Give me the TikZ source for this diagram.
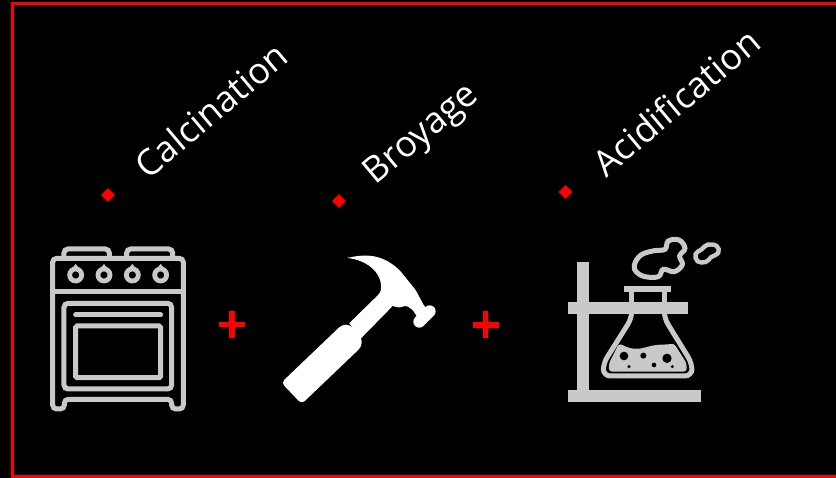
\documentclass[tikz,border=0pt]{standalone}
\usepackage{fontspec}
\setmainfont{Open Sans}
\definecolor{icon}{HTML}{C9C9C9}
\usetikzlibrary{shapes.geometric}
\tikzset{
 labeltext/.style={text=white,font=\fontsize{36}{42}\selectfont,rotate=40,inner sep=0pt},
 bullet/.style={fill=red,diamond,minimum width=14pt,minimum height=14pt,inner sep=0pt},
 plussign/.style={draw=red,line width=5.4pt},
 stroke/.style={draw=icon,line width=5pt,rounded corners=4pt},
 thin stroke/.style={draw=icon,line width=5pt},
 zoomunits/.style={x=0.3333pt,y=-0.3333pt}
}
\begin{document}
\begin{tikzpicture}[x=1pt,y=-1pt]
\useasboundingbox (0,0) rectangle (836,478);
\fill[black] (0,0) rectangle (836,478);
\draw[red,line width=3.2pt] (836,3.2) -- (12.6,3.2) -- (12.6,476.6) -- (836,476.6);

\node[labeltext] (calc) at (211,110) {Calcination};
\node[labeltext] (broy) at (422.5,135.5) {Broyage};
\node[labeltext] (acid) at (676,102) {Acidification};
\node[bullet] (b1) at (108,195) {};
\node[bullet] (b2) at (339,201) {};
\node[bullet] (b3) at (565.5,192) {};

% oven
\begin{scope}[shift={(30,230)},zoomunits]
 \draw[stroke] (68,85) -- (68,537) -- (103,537) -- (103,508) -- (425,508) -- (425,537) -- (460,537) -- (460,85) -- cycle;
 \draw[stroke] (102,82) -- (102,57) -- (238,57) -- (238,82);
 \draw[stroke] (290,82) -- (290,57) -- (428,57) -- (428,82);
 \draw[stroke] (68,185) -- (460,185);
 \foreach \k in {137,222,307,392}{
  \draw[icon,line width=4.8pt] (\k,135) circle[radius=18];
  \fill[icon] (\k-10,114) -- (\k,102) -- (\k+10,114) -- cycle;
 }
 \draw[stroke] (102,220) rectangle (425,477);
 \draw[stroke,rounded corners=1.5pt] (137,288) rectangle (392,443);
 \draw[stroke,line cap=round] (137,255) -- (392,255);
\end{scope}

% hammer
\begin{scope}[shift={(270,240)},zoomunits]
 \fill[white,rounded corners=1.5pt] (232,54) .. controls (285,60) and (340,95) .. (332,155) -- (320,170) -- (238,250) -- (360,195) -- (385,203) -- (410,197) -- (428,210) -- (445,235) -- (470,205) -- (462,197) -- (437,150) -- (390,92) .. controls (345,50) and (300,38) .. (232,54) -- cycle;
 \fill[white] (320,170) -- (238,250) -- (272,296) -- (368,198) -- cycle;
 \fill[white,rounded corners=4pt] (216,254) -- (34,428) -- (95,492) -- (275,320) -- (275,292) -- (240,254) -- cycle;
 \draw[white,line width=12pt,line cap=round] (448,245) -- (479,214);
\end{scope}

\draw[plussign] (219,324.5) -- (245,324.5) (232,311) -- (232,338);
\draw[plussign] (472.5,325) -- (498.5,325) (485.5,311.5) -- (485.5,338.5);

% flask
\begin{scope}[shift={(555,230)},zoomunits]
 \fill[icon] (67,95) rectangle (102,490);
 \fill[icon] (40,480) rectangle (437,517);
 \fill[icon] (40,215) rectangle (398,252);
 \fill[icon] (207,167) rectangle (347,187);
 \fill[icon] (222,187) rectangle (238,215);
 \fill[icon] (320,187) rectangle (336,215);
 \draw[thin stroke,rounded corners=7pt] (230,250) -- (230,265) -- (145,400) -- (145,438) -- (411,438) -- (411,400) -- (328,265) -- (328,250);
 \fill[icon,rounded corners=3pt] (192,340) .. controls (230,360) and (250,358) .. (280,350) .. controls (310,342) and (335,345) .. (357,340) -- (395,400) -- (395,425) -- (162,425) -- (162,400) -- cycle;
 \foreach \bx/\by/\br in {207/378/13,265/377/9,336/385/14,297/405/7,222/410/5,352/410/5}{
  \fill[black] (\bx,\by) circle[radius=\br];
 }
 % smoke
 \fill[black,draw=icon,line width=5pt] plot[smooth cycle,tension=0.65] coordinates {(238,105) (258,75) (298,62) (330,58) (340,33) (372,30) (390,55) (374,78) (382,104) (358,125) (325,118) (310,140) (270,140) (244,126)};
 \fill[black,draw=icon,line width=4.4pt] plot[smooth cycle,tension=0.7] coordinates {(422,72) (440,58) (458,44) (485,48) (490,68) (468,82) (452,96) (428,94)};
\end{scope}
\end{tikzpicture}
\end{document}
